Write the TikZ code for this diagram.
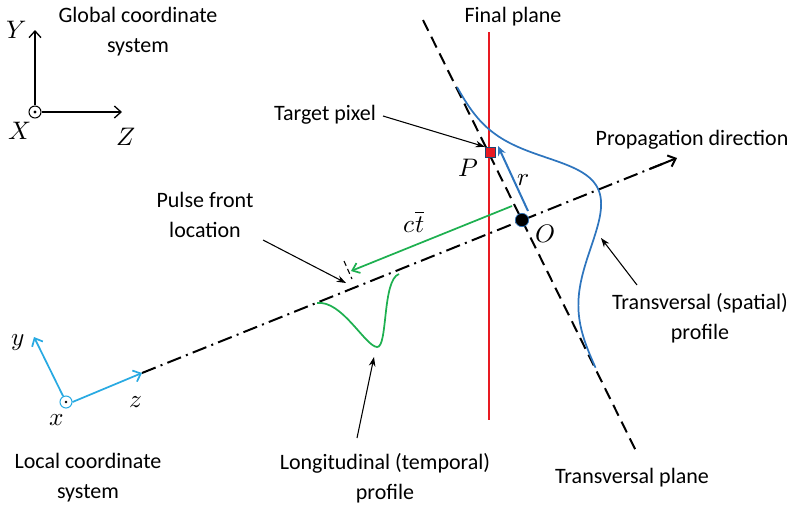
\documentclass[tikz,border=0pt]{standalone}
\usepackage{fontspec}
\usepackage{unicode-math}
\setmainfont{Carlito}
\setmathfont{Latin Modern Math}
\usetikzlibrary{arrows.meta,calc}
\definecolor{cblue}{RGB}{46,117,190}
\definecolor{lblue}{RGB}{41,170,226}
\definecolor{cred}{RGB}{232,26,34}
\definecolor{cgreen}{RGB}{30,176,80}
\begin{document}
\begin{tikzpicture}[x=0.75pt,y=-0.75pt,
  lbl/.style={font=\fontsize{16.5}{22.5}\selectfont, align=center, inner sep=1pt},
  mth/.style={font=\fontsize{19}{22}\selectfont, inner sep=1pt},
  axisarrow/.style={-{Straight Barb[length=5pt,width=9pt]}, line width=1pt},
  pointer/.style={-{Stealth[length=7pt,width=5pt]}, line width=0.8pt},
  propline/.style={line width=1.5pt, dash pattern=on 11pt off 4pt on 1.5pt off 4pt},
  transline/.style={line width=1.5pt, dash pattern=on 9pt off 5pt},
  odot/.style={circle, draw, line width=0.8pt, minimum size=9pt, inner sep=0pt}
]
\useasboundingbox (0,0) rectangle (790,508);

% ---------- Global coordinate system ----------
\node[odot] (GO) at (35,112) {};
\fill (GO) circle (1.2pt);
\coordinate (GY) at (35,30);
\coordinate (GZ) at (122,112);
\draw[axisarrow] (GO.north) -- (GY);
\draw[axisarrow] (GO.east) -- (GZ);
\node[mth] (lY) at (17,30) {$Y$};
\node[mth] (lX) at (20,131) {$X$};
\node[mth] (lZ) at (126,137) {$Z$};
\node[lbl] (tglobal) at (138,32) {Global coordinate\\system};

% ---------- Final plane ----------
\coordinate (fp0) at (489,32);
\coordinate (fp1) at (489,420);
\draw[cred, line width=2.2pt] (fp0) -- (fp1);
\node[lbl] (tfinal) at (513,17) {Final plane};

% ---------- Transversal plane ----------
\coordinate (tp0) at (423,20);
\coordinate (tp1) at (637,453);
\draw[transline] (tp0) -- (tp1);
\node[lbl] (ttrans) at (632,478) {Transversal plane};

% ---------- Propagation axis ----------
\coordinate (ax0) at (142,373);
\coordinate (ax1) at (677,158);
\draw[propline] (ax0) -- ($(ax1)!0.02!(ax0)$);
\draw[axisarrow, line width=1.5pt] ($(ax1)!0.05!(ax0)$) -- (ax1);
\node[lbl] (tprop) at (692,140) {Propagation direction};

% ---------- Transversal (spatial) profile ----------
\draw[cblue, line width=1.3pt, domain=-148:165, samples=120, smooth]
  plot ({522+\x*0.443+82*exp(-0.5*((\x-5)/50)^2)*0.896},
        {220+\x*0.896-82*exp(-0.5*((\x-5)/50)^2)*0.443});
\coordinate (sp0) at (637,285);
\coordinate (sp1) at (601,238);
\draw[pointer] (sp0) -- (sp1);
\node[lbl] (tspatial) at (700,318) {Transversal (spatial)\\profile};

% ---------- Longitudinal (temporal) profile ----------
\draw[cgreen, line width=1.3pt]
  (317,303) .. controls (342,300) and (365,346) .. (377,347)
            .. controls (388,348) and (382,280) .. (399,274);
\coordinate (lp0) at (357,438);
\coordinate (lp1) at (374,357);
\draw[pointer] (lp0) -- (lp1);
\node[lbl] (tlong) at (385,478) {Longitudinal (temporal)\\profile};

% ---------- c t-bar arrow and pulse front ----------
\coordinate (g0) at (512,206);
\coordinate (g1) at (351,271);
\draw[cgreen, line width=1.3pt, -{Straight Barb[length=5pt,width=8pt]}] (g0) -- (g1);
\node[mth] (lct) at (414,222) {$c\overline{t}$};
\coordinate (pf0) at (344,261);
\coordinate (pf1) at (352,279);
\draw[line width=0.8pt, dash pattern=on 4pt off 2.5pt] (pf0) -- (pf1);
\coordinate (pl0) at (263,240);
\coordinate (pl1) at (346,283);
\draw[pointer] (pl0) -- (pl1);
\node[lbl] (tpulse) at (205,215) {Pulse front\\location};

% ---------- O, P, r ----------
\node[circle, fill=black, draw=cblue, line width=0.5pt, minimum size=10pt, inner sep=0pt] (O) at (522,220) {};
\node[mth] (lO) at (545,234) {$O$};
\coordinate (r0) at (528,211);
\coordinate (r1) at (498,146);
\draw[cblue, line width=1.5pt, -{Stealth[length=7pt,width=6pt]}] (r0) -- (r1);
\node[mth] (lr) at (523,180) {$r$};
\node[rectangle, fill=cred, draw=cblue!60!black, line width=0.4pt, minimum size=7.5pt, inner sep=0pt] (P) at (490,152) {};
\node[mth] (lP) at (468,168) {$P$};
\coordinate (tg0) at (383,116);
\draw[pointer] (tg0) -- (P.north west);
\node[lbl] (ttarget) at (325,115) {Target pixel};

% ---------- Local coordinate system ----------
\node[odot, draw=lblue] (LO) at (66,402) {};
\fill (LO) circle (1.1pt);
\coordinate (Ly) at (34,337);
\coordinate (Lz) at (142,373);
\draw[lblue, axisarrow, line width=1.3pt] (LO) -- (Ly);
\draw[lblue, axisarrow, line width=1.3pt] (LO.east) -- (Lz);
\node[mth] (ly) at (18,342) {$y$};
\node[mth] (lx) at (57,420) {$x$};
\node[mth] (lz) at (136,402) {$z$};
\node[lbl] (tlocal) at (88,478) {Local coordinate\\system};
\end{tikzpicture}
\end{document}
